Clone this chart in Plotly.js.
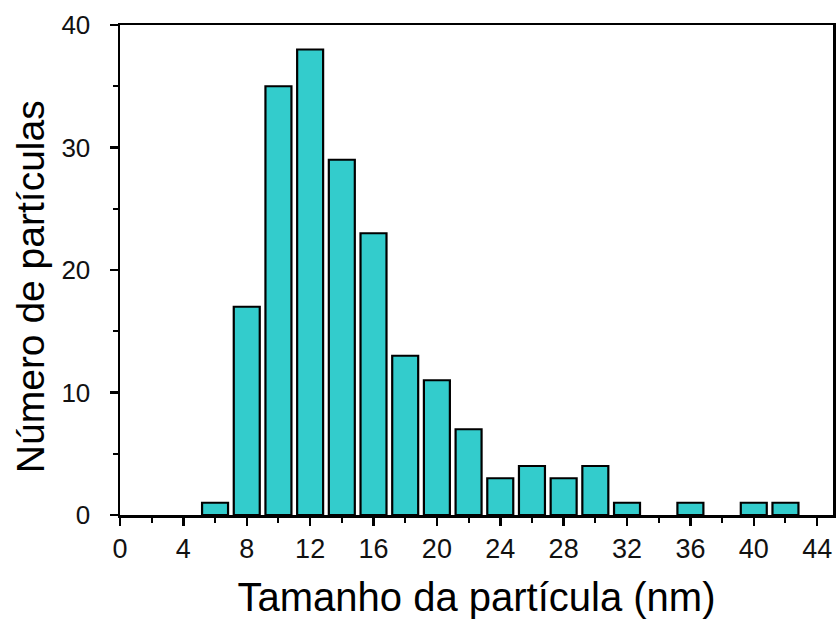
<!DOCTYPE html>
<html>
<head>
<meta charset="utf-8">
<script src="https://cdn.plot.ly/plotly-3.0.1.min.js"></script>
<style>html,body{margin:0;padding:0;background:#fff;}#chart{width:838px;height:620px;}</style>
</head>
<body>
<div id="chart"></div>
<script>
// Particle size bins (nm, bin centres) and counts
const sizes = [6, 8, 10, 12, 14, 16, 18, 20, 22, 24, 26, 28, 30, 32, 36, 40, 42];
const counts = [1, 17, 35, 38, 29, 23, 13, 11, 7, 3, 4, 3, 4, 1, 1, 1, 1];
const xTickVals = [0, 4, 8, 12, 16, 20, 24, 28, 32, 36, 40, 44];
const yTickVals = [0, 10, 20, 30, 40];
const xTitle = 'Tamanho da partícula (nm)';
const yTitle = 'Número de partículas';

const FONT = 'Liberation Sans, Arial, sans-serif';

const trace = {
  type: 'bar',
  x: sizes,
  y: counts,
  marker: { color: '#33CCCC', line: { color: '#000000', width: 2.2 } },
  hoverinfo: 'x+y'
};

const layout = {
  width: 838, height: 620,
  margin: { l: 120, r: 5, t: 25, b: 105 },
  paper_bgcolor: '#ffffff', plot_bgcolor: '#ffffff',
  bargap: 0.18,
  showlegend: false,
  font: { family: FONT, color: '#111' },
  xaxis: {
    range: [0, 45],
    tickvals: xTickVals,
    ticktext: xTickVals.map(String),
    ticks: 'outside', ticklen: 8, tickwidth: 2.5, tickcolor: '#000',
    minor: { dtick: 2, tick0: 0, ticks: 'outside', ticklen: 5, tickwidth: 2, tickcolor: '#000', showgrid: false },
    showline: true, linecolor: '#000', linewidth: 2.5, mirror: true,
    showgrid: false, zeroline: false,
    tickfont: { family: FONT, size: 27, color: '#111' },
    title: { text: xTitle, font: { family: FONT, size: 40, color: '#000' }, standoff: 20 },
    automargin: false
  },
  yaxis: {
    range: [0, 40],
    tickvals: yTickVals,
    ticks: 'outside', ticklen: 8, tickwidth: 2.5, tickcolor: '#000',
    minor: { dtick: 5, tick0: 0, ticks: 'outside', ticklen: 5, tickwidth: 2, tickcolor: '#000', showgrid: false },
    showline: true, linecolor: '#000', linewidth: 2.5, mirror: true,
    showgrid: false, zeroline: false,
    ticklabelstandoff: 14,
    tickfont: { family: FONT, size: 26, color: '#111' },
    automargin: false
  },
  annotations: [{
    text: yTitle, textangle: -90, showarrow: false,
    xref: 'paper', yref: 'paper', x: 0, y: 0.465,
    xshift: -90, xanchor: 'center', yanchor: 'middle',
    font: { family: FONT, size: 39, color: '#000' }
  }]
};

Plotly.newPlot('chart', [trace], layout, { displayModeBar: false, staticPlot: true });
</script>
</body>
</html>
